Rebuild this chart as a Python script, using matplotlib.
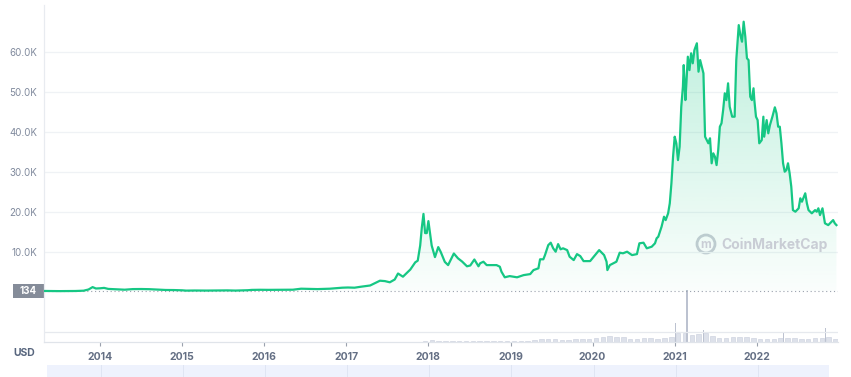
import matplotlib
matplotlib.use("Agg")
import matplotlib.pyplot as plt
import numpy as np
from matplotlib.patches import Rectangle, Ellipse
from matplotlib.ticker import FixedLocator, FuncFormatter

plt.rcParams['font.family'] = ['Inter', 'DejaVu Sans']

# ---------------- data (decimal year, USD) ----------------
dates = [2013.32, 2013.40, 2013.50, 2013.60, 2013.70, 2013.80, 2013.86, 2013.91, 2013.95, 2014.00,
         2014.05, 2014.10, 2014.20, 2014.30, 2014.40, 2014.50, 2014.60, 2014.70, 2014.80, 2014.90,
         2015.00, 2015.05, 2015.15, 2015.30, 2015.45, 2015.55, 2015.65, 2015.80, 2015.85, 2015.95,
         2016.05, 2016.20, 2016.35, 2016.45, 2016.55, 2016.65, 2016.80, 2016.95, 2017.02, 2017.10,
         2017.18, 2017.29, 2017.41, 2017.47, 2017.53, 2017.59, 2017.63, 2017.69, 2017.78, 2017.84,
         2017.87, 2017.90, 2017.92, 2017.94, 2017.96, 2017.98, 2018.00, 2018.02, 2018.04, 2018.08,
         2018.12, 2018.15, 2018.20, 2018.24, 2018.31, 2018.36, 2018.41, 2018.47, 2018.51, 2018.56,
         2018.59, 2018.61, 2018.63, 2018.67, 2018.71, 2018.83, 2018.87, 2018.89, 2018.93, 2018.99,
         2019.08, 2019.16, 2019.24, 2019.28, 2019.34, 2019.36, 2019.40, 2019.42, 2019.46, 2019.49,
         2019.52, 2019.55, 2019.58, 2019.61, 2019.64, 2019.69, 2019.72, 2019.77, 2019.81, 2019.85,
         2019.89, 2019.97, 2020.03, 2020.08, 2020.14, 2020.17, 2020.18, 2020.21, 2020.29, 2020.33,
         2020.37, 2020.42, 2020.48, 2020.54, 2020.57, 2020.62, 2020.66, 2020.72, 2020.76, 2020.78,
         2020.80, 2020.84, 2020.87, 2020.89, 2020.92, 2020.94, 2020.96, 2020.98, 2021.00, 2021.02,
         2021.04, 2021.06, 2021.08, 2021.10, 2021.11, 2021.13, 2021.14, 2021.16, 2021.18, 2021.20,
         2021.22, 2021.24, 2021.27, 2021.29, 2021.31, 2021.33, 2021.35, 2021.37, 2021.39, 2021.41,
         2021.43, 2021.45, 2021.47, 2021.49, 2021.51, 2021.53, 2021.55, 2021.57, 2021.59, 2021.61,
         2021.63, 2021.65, 2021.67, 2021.70, 2021.73, 2021.75, 2021.78, 2021.80, 2021.82, 2021.84,
         2021.86, 2021.88, 2021.90, 2021.92, 2021.94, 2021.96, 2021.97, 2021.99, 2022.01, 2022.03,
         2022.06, 2022.08, 2022.09, 2022.12, 2022.14, 2022.16, 2022.19, 2022.22, 2022.24, 2022.26,
         2022.28, 2022.30, 2022.32, 2022.34, 2022.36, 2022.38, 2022.40, 2022.42, 2022.44, 2022.47,
         2022.51, 2022.53, 2022.55, 2022.59, 2022.61, 2022.63, 2022.67, 2022.71, 2022.73, 2022.75,
         2022.77, 2022.80, 2022.83, 2022.87, 2022.91, 2022.93, 2022.95, 2022.97]
prices = [134, 115, 95, 100, 125, 200, 500, 1100, 750, 800,
          900, 650, 550, 450, 600, 620, 580, 480, 380, 360,
          300, 220, 250, 230, 250, 280, 230, 320, 400, 430,
          410, 420, 450, 700, 650, 600, 700, 950, 1000, 950,
          1200, 1500, 2700, 2600, 2300, 3000, 4500, 3700, 5500, 7300,
          7700, 11500, 16000, 19400, 14600, 14600, 17600, 14600, 11500, 8600,
          11100, 9900, 7400, 6600, 9500, 8300, 7500, 6300, 6500, 8000,
          7000, 6300, 7050, 7450, 6600, 6600, 6200, 4950, 3550, 3850,
          3550, 4100, 4350, 5350, 5800, 8050, 8050, 9100, 11600, 12200,
          10800, 9950, 11850, 10550, 10800, 10350, 8700, 7850, 9350, 8850,
          7600, 7600, 9100, 10350, 9100, 7450, 5350, 6600, 7450, 9700,
          9550, 9950, 9100, 9350, 12050, 12200, 10800, 11200, 12050, 13300,
          13700, 16200, 18700, 17850, 19550, 22050, 27050, 33700, 38700, 37050,
          32850, 36200, 46200, 51200, 56600, 47850, 51200, 58700, 55350, 59550,
          57050, 60350, 62050, 54950, 57850, 56200, 54550, 38700, 37850, 37050,
          38300, 32050, 34550, 33700, 31600, 35350, 41200, 42050, 45350, 49550,
          47850, 52050, 46200, 43700, 43700, 57850, 66600, 64100, 62450, 67450,
          63700, 58300, 57850, 48700, 47850, 50800, 47850, 43700, 42850, 37050,
          37850, 43700, 38700, 42850, 39550, 41600, 43700, 46050, 44550, 41200,
          41200, 37050, 32050, 29950, 30350, 32050, 29550, 26200, 20350, 19950,
          20800, 23300, 22450, 24550, 22050, 20350, 19550, 20350, 19950, 20800,
          19100, 20800, 17050, 16600, 17450, 17850, 17050, 16600]

# monthly traded volume, billions USD, Jan 2017 .. Dec 2022
vol_years = [2017, 2018, 2019, 2020, 2021, 2022]
vol_monthly = [0.3, 0.4, 0.6, 0.6, 1.5, 1.5, 1.0, 1.5, 2.0, 1.8, 3, 8,
               12, 8, 6, 5, 6, 4, 4, 4, 4, 3.5, 5, 5,
               8, 9, 10, 14, 20, 19, 17, 14, 14, 17, 18, 17,
               26, 33, 38, 36, 34, 22, 18, 24, 25, 22, 28, 35,
               58, 62, 50, 55, 58, 38, 26, 30, 32, 35, 33, 28,
               22, 22, 20, 24, 30, 24, 22, 20, 25, 28, 35, 18]
spike_dates = [2021.01, 2021.15, 2021.35, 2022.33, 2022.84]
spike_vols = [125, 350, 80, 67, 94]

year_ticks = [2014, 2015, 2016, 2017, 2018, 2019, 2020, 2021, 2022]
price_ticks = [10000, 20000, 30000, 40000, 50000, 60000]
first_price_label = "134"

# ---------------- figure ----------------
W, H = 851, 377
fig = plt.figure(figsize=(W / 100, H / 100), dpi=100)
fig.patch.set_facecolor('white')

left_px, right_px, top_px, bot_px = 44, 838, 5, 342
pos = [left_px / W, (H - bot_px) / H, (right_px - left_px) / W, (bot_px - top_px) / H]
ax = fig.add_axes(pos)
ax2 = ax.twinx()
ax.set_zorder(ax2.get_zorder() + 1)
ax.patch.set_visible(False)

x0 = 2014 - 56 / 82.1
x1 = 2014 + (right_px - 100) / 82.1
ax.set_xlim(x0, x1)
ymin, ymax = -12625, 71625
ax.set_ylim(ymin, ymax)

green = '#16c784'

# grid
for v in price_ticks:
    ax.axhline(v, color='#eff2f5', lw=0.9, zorder=0)
ax.axhline(-10125, color='#e6e9ee', lw=0.9, zorder=0)

# gradient fill
d = np.array(dates)
p = np.array(prices)
poly = ax.fill_between(d, 0, p, color='none', lw=0)
grad = np.linspace(0, 1, 256).reshape(-1, 1)
rgba = np.zeros((256, 1, 4))
rgba[..., 0] = 0x16 / 255
rgba[..., 1] = 0xc7 / 255
rgba[..., 2] = 0x84 / 255
rgba[..., 3] = 0.02 + 0.26 * grad[::-1]
im = ax.imshow(rgba, extent=[x0, x1, 0, 68000], aspect='auto', origin='upper', zorder=1)
im.set_clip_path(poly.get_paths()[0], transform=ax.transData)
ax.set_xlim(x0, x1)
ax.set_ylim(ymin, ymax)

# line
ax.plot(d, p, color=green, lw=1.6, zorder=3, solid_joinstyle='round')

# dotted line at first price
ax.axhline(prices[0], color='#9aa1ad', lw=0.8, ls=(0, (1, 2.5)), zorder=2)

# volume
vx = [y + (m + 0.5) / 12 for y in vol_years for m in range(12)]
ax2.bar(vx, vol_monthly, width=0.055, color='#dde1ea', edgecolor='#c8cedb', lw=0.4, zorder=1)
ax2.bar(spike_dates, spike_vols, width=0.013, color='#bcc2d0', lw=0, zorder=2)
ax2.set_ylim(0, 350 * (bot_px - top_px) / 52)
ax2.set_yticks([])
for s in ax2.spines.values():
    s.set_visible(False)

# axes style
for s in ['top', 'right']:
    ax.spines[s].set_visible(False)
ax.spines['left'].set_color('#e8ebf0')
ax.spines['bottom'].set_color('#e0e4ea')
ax.spines['left'].set_linewidth(0.9)
ax.spines['bottom'].set_linewidth(0.9)

ax.yaxis.set_major_locator(FixedLocator(price_ticks))
ax.yaxis.set_major_formatter(FuncFormatter(lambda v, _: f"{v/1000:.1f}K"))
ax.tick_params(axis='y', length=0, pad=5, labelsize=7, labelcolor='#808a9d')

ax.xaxis.set_major_locator(FixedLocator(year_ticks))
ax.set_xticklabels([str(y) for y in year_ticks])
ax.tick_params(axis='x', length=3, width=0.8, color='#9aa1ad', pad=4, labelsize=7.5, labelcolor='#646f84')
for t in ax.get_xticklabels():
    t.set_fontweight('bold')

# 134 label box
fig.add_artist(Rectangle((13 / W, (H - 298) / H), 31 / W, 14 / H, transform=fig.transFigure,
                         facecolor='#858c99', edgecolor='none'))
fig.text(28.5 / W, (H - 291) / H, first_price_label, color='white', fontsize=7, fontweight='bold',
         ha='center', va='center')

# USD
fig.text(24 / W, (H - 353) / H, "USD", color='#58667e', fontsize=7.5, fontweight='bold',
         ha='center', va='center')

# navigator band
fig.add_artist(Rectangle((47 / W, 0), (829 - 47) / W, 12 / H, transform=fig.transFigure,
                         facecolor='#eef2fd', edgecolor='none'))
for yv in year_ticks:
    xp = 100 + (yv - 2014) * 82.1 + 1
    fig.add_artist(Rectangle((xp / W, 0), 1 / W, 12 / H, transform=fig.transFigure,
                             facecolor='#dfe5f3', edgecolor='none'))

# watermark
wm = '#c9cdd5'
fig.add_artist(Ellipse((706 / W, (H - 244) / H), 18 / W, 18 / H, transform=fig.transFigure,
                       facecolor='none', edgecolor=wm, lw=2.0))
fig.text(706 / W, (H - 245) / H, "m", color=wm, fontsize=8.5, fontweight='bold', ha='center', va='center')
fig.text(721 / W, (H - 245) / H, "CoinMarketCap", color=wm, fontsize=10, fontweight='bold',
         ha='left', va='center')

fig.savefig('out.png', dpi=100)
